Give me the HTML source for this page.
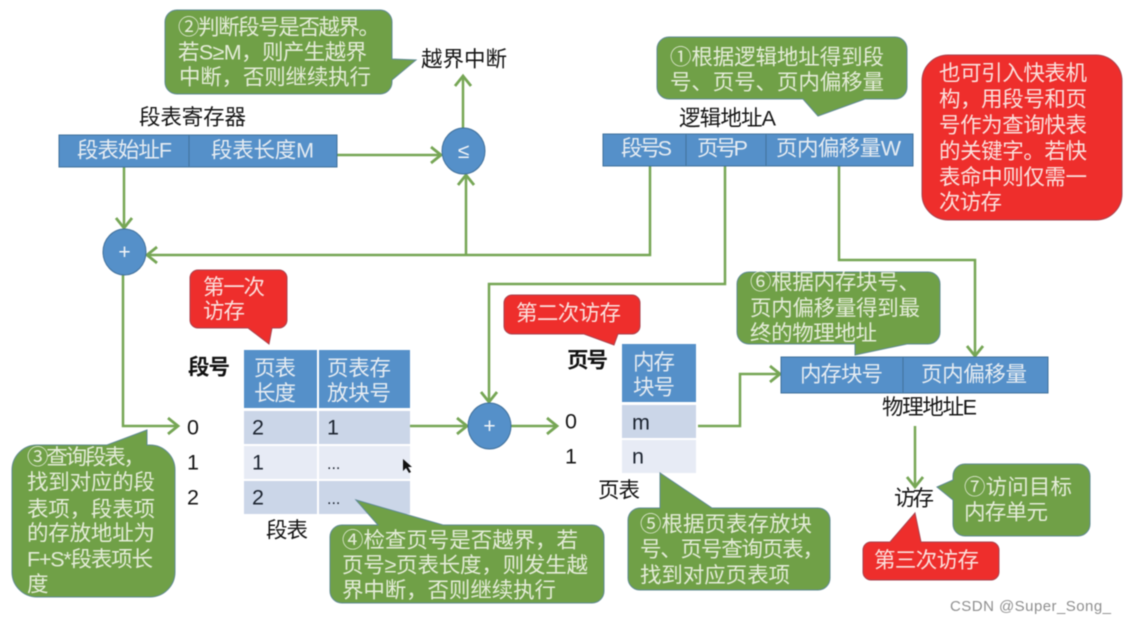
<!DOCTYPE html>
<html lang="zh">
<head>
<meta charset="utf-8">
<title>段页式地址变换</title>
<style>
html,body{margin:0;padding:0;background:#fff;width:1126px;height:625px;overflow:hidden}
svg{display:block;filter:blur(.5px)}
text{font-family:"Liberation Sans","Noto Sans CJK SC",sans-serif;font-size:21.5px;dominant-baseline:central;transform:translateY(.7px)}
.w{fill:#e6ecf2}
.g{fill:#e4ecd8}
.r{fill:#fbe0dd}
.k{fill:#151515}
.b{font-weight:700;fill:#111}
.n{fill:#1c2430}
.bub{fill:#70a047;stroke:#5f8a94;stroke-width:1}
.red{fill:#ee2e2c;stroke:#a9434f;stroke-width:1}
.box{fill:#5590c9;stroke:#41719c;stroke-width:1}
.l{fill:none;stroke:#76a655;stroke-width:2.5}
</style>
</head>
<body>
<svg width="1126" height="625" viewBox="0 0 1126 625" xmlns="http://www.w3.org/2000/svg">
<defs>
<marker id="a" markerUnits="userSpaceOnUse" markerWidth="16" markerHeight="20" refX="12" refY="10" orient="auto">
<path d="M2 2 L12 10 L2 18" fill="none" stroke="#76a655" stroke-width="2.8"/>
</marker>
</defs>
<rect width="1126" height="625" fill="#fff"/>

<!-- connectors -->
<path class="l" d="M463 128V76" marker-end="url(#a)"/>
<path class="l" d="M337 155H441" marker-end="url(#a)"/>
<path class="l" d="M466 255V175" marker-end="url(#a)"/>
<path class="l" d="M124 167V228" marker-end="url(#a)"/>
<path class="l" d="M650 166V255H147" marker-end="url(#a)"/>
<path class="l" d="M725 166V284H489V402" marker-end="url(#a)"/>
<path class="l" d="M839 166V260H975V356" marker-end="url(#a)"/>
<path class="l" d="M123 275V426H178" marker-end="url(#a)"/>
<path class="l" d="M407 426H467" marker-end="url(#a)"/>
<path class="l" d="M511 426H557" marker-end="url(#a)"/>
<path class="l" d="M698 426H740V374H780" marker-end="url(#a)"/>
<path class="l" d="M915 426V487" marker-end="url(#a)"/>

<!-- segment register -->
<rect class="box" x="59" y="135" width="278" height="32"/>
<path d="M189 135V167" stroke="#41719c" stroke-width="1"/>
<text class="k" x="139" y="117" textLength="107">段表寄存器</text>
<text class="w" x="77" y="150" textLength="95">段表始址F</text>
<text class="w" x="211" y="150" textLength="103">段表长度M</text>

<!-- bubble 2 -->
<path class="bub" d="M177 10H380a12 12 0 0 1 12 12V59L416 60L392 80V82a12 12 0 0 1-12 12H177a12 12 0 0 1-12-12V22a12 12 0 0 1 12-12Z"/>
<text class="g" x="178" y="27" textLength="202">②判断段号是否越界。</text>
<text class="g" x="178" y="52" textLength="189">若S≥M，则产生越界</text>
<text class="g" x="179" y="77" textLength="192">中断，否则继续执行</text>
<text class="k" x="421" y="59" textLength="86">越界中断</text>

<!-- compare -->
<ellipse cx="463.5" cy="151" rx="21.5" ry="23" fill="#5590c9" stroke="#41719c"/>
<text class="w" x="463.5" y="151" text-anchor="middle" style="font-size:21px;fill:#f2f5f8">≤</text>
<ellipse cx="124.5" cy="252" rx="21.5" ry="23" fill="#5590c9" stroke="#41719c"/>
<text class="w" x="124.5" y="252" text-anchor="middle" style="font-size:21px;fill:#f2f5f8">+</text>
<ellipse cx="489.5" cy="426" rx="21.5" ry="23" fill="#5590c9" stroke="#41719c"/>
<text class="w" x="489.5" y="426" text-anchor="middle" style="font-size:21px;fill:#f2f5f8">+</text>

<!-- bubble 1 and logical address -->
<path class="bub" d="M669 37H895a12 12 0 0 1 12 12V87a12 12 0 0 1-12 12H865L818 116L803 99H669a12 12 0 0 1-12-12V49a12 12 0 0 1 12-12Z"/>
<text class="g" x="670" y="57" textLength="214">①根据逻辑地址得到段</text>
<text class="g" x="670" y="82" textLength="214">号、页号、页内偏移量</text>
<text class="k" x="679" y="118" textLength="97">逻辑地址A</text>
<rect class="box" x="603" y="134" width="310" height="32"/>
<path d="M686 134V166M766 134V166" stroke="#41719c" stroke-width="1"/>
<text class="w" x="621" y="148" textLength="51">段号S</text>
<text class="w" x="697" y="148" textLength="51">页号P</text>
<text class="w" x="776" y="148" textLength="125">页内偏移量W</text>

<!-- red note -->
<rect class="red" x="922" y="55" width="200" height="165" rx="26"/>
<text class="r" x="939" y="73" textLength="148">也可引入快表机</text>
<text class="r" x="939" y="99" textLength="148">构，用段号和页</text>
<text class="r" x="939" y="125" textLength="148">号作为查询快表</text>
<text class="r" x="939" y="151" textLength="148">的关键字。若快</text>
<text class="r" x="939" y="177" textLength="148">表命中则仅需一</text>
<text class="r" x="939" y="202" textLength="63">次访存</text>

<!-- first access -->
<path class="red" d="M198 270H279a8 8 0 0 1 8 8V320a8 8 0 0 1-8 8H272L269 344L248 328H198a8 8 0 0 1-8-8V278a8 8 0 0 1 8-8Z"/>
<text class="r" x="203" y="287" textLength="62">第一次</text>
<text class="r" x="203" y="311" textLength="42">访存</text>

<!-- segment table -->
<text class="b" x="188" y="367" textLength="42">段号</text>
<rect x="244" y="350" width="73" height="58" fill="#5590c9"/>
<rect x="319" y="350" width="91" height="58" fill="#5590c9"/>
<rect x="244" y="411" width="73" height="33" fill="#cbd6e8"/>
<rect x="319" y="411" width="91" height="33" fill="#cbd6e8"/>
<rect x="244" y="446" width="73" height="33" fill="#e7ebf5"/>
<rect x="319" y="446" width="91" height="33" fill="#e7ebf5"/>
<rect x="244" y="481" width="73" height="33" fill="#cbd6e8"/>
<rect x="319" y="481" width="91" height="33" fill="#cbd6e8"/>
<text class="w" x="254" y="368" textLength="42">页表</text>
<text class="w" x="254" y="393" textLength="42">长度</text>
<text class="w" x="327" y="368" textLength="64">页表存</text>
<text class="w" x="327" y="393" textLength="64">放块号</text>
<text class="k" x="187" y="427">0</text>
<text class="k" x="187" y="462">1</text>
<text class="k" x="187" y="497">2</text>
<text class="n" x="252" y="427">2</text>
<text class="n" x="327" y="427">1</text>
<text class="n" x="252" y="462">1</text>
<text class="n" x="327" y="464" style="font-size:16px">...</text>
<text class="n" x="252" y="497">2</text>
<text class="n" x="327" y="499" style="font-size:16px">...</text>
<text class="k" x="266" y="530" textLength="42">段表</text>
<path d="M403 459L403 471L406 468L409 473L411 472L408 467L412 467Z" fill="#111"/>

<!-- bubble 3 -->
<path class="bub" d="M37 445H107L147 430V445H150a25 25 0 0 1 25 25V572a25 25 0 0 1-25 25H37a25 25 0 0 1-25-25V470a25 25 0 0 1 25-25Z"/>
<text class="g" x="27" y="457" textLength="118">③查询段表，</text>
<text class="g" x="27" y="482" textLength="128">找到对应的段</text>
<text class="g" x="27" y="509" textLength="128">表项，段表项</text>
<text class="g" x="27" y="533" textLength="128">的存放地址为</text>
<text class="g" x="27" y="559" textLength="126">F+S*段表项长</text>
<text class="g" x="27" y="584" textLength="21">度</text>

<!-- bubble 4 -->
<path class="bub" d="M342 525H378L356 500L443 525H592a12 12 0 0 1 12 12V591a12 12 0 0 1-12 12H342a12 12 0 0 1-12-12V537a12 12 0 0 1 12-12Z"/>
<text class="g" x="342" y="540" textLength="236">④检查页号是否越界，若</text>
<text class="g" x="342" y="565" textLength="246">页号≥页表长度，则发生越</text>
<text class="g" x="342" y="590" textLength="214">界中断，否则继续执行</text>

<!-- second access -->
<path class="red" d="M512 295H632a8 8 0 0 1 8 8V326a8 8 0 0 1-8 8H618L614 345L584 334H512a8 8 0 0 1-8-8V303a8 8 0 0 1 8-8Z"/>
<text class="r" x="516" y="313" textLength="105">第二次访存</text>

<!-- page table -->
<text class="b" x="567" y="360" textLength="41">页号</text>
<rect x="622" y="344" width="74" height="58" fill="#5590c9"/>
<rect x="622" y="405" width="74" height="33" fill="#cbd6e8"/>
<rect x="622" y="440" width="74" height="33" fill="#e7ebf5"/>
<text class="w" x="633" y="362" textLength="42">内存</text>
<text class="w" x="633" y="387" textLength="42">块号</text>
<text class="n" x="632" y="422">m</text>
<text class="n" x="632" y="456">n</text>
<text class="k" x="565" y="421">0</text>
<text class="k" x="565" y="456">1</text>
<text class="k" x="598" y="490" textLength="42">页表</text>

<!-- bubble 5 -->
<path class="bub" d="M640 508H660V473L712 508H818a12 12 0 0 1 12 12V578a12 12 0 0 1-12 12H640a12 12 0 0 1-12-12V520a12 12 0 0 1 12-12Z"/>
<text class="g" x="640" y="524" textLength="172">⑤根据页表存放块</text>
<text class="g" x="640" y="549" textLength="184">号、页号查询页表，</text>
<text class="g" x="640" y="575" textLength="150">找到对应页表项</text>

<!-- bubble 6 and physical address -->
<path class="bub" d="M749 272H928a12 12 0 0 1 12 12V332a12 12 0 0 1-12 12H907L855 355V344H749a12 12 0 0 1-12-12V284a12 12 0 0 1 12-12Z"/>
<text class="g" x="750" y="282" textLength="170">⑥根据内存块号、</text>
<text class="g" x="750" y="308" textLength="170">页内偏移量得到最</text>
<text class="g" x="750" y="333" textLength="127">终的物理地址</text>
<rect class="box" x="781" y="357" width="267" height="36"/>
<path d="M903 357V393" stroke="#41719c" stroke-width="1"/>
<text class="w" x="800" y="374" textLength="83">内存块号</text>
<text class="w" x="921" y="374" textLength="106">页内偏移量</text>
<text class="k" x="882" y="407" textLength="95">物理地址E</text>

<!-- memory access -->
<text class="k" x="894" y="498" textLength="40">访存</text>
<path class="bub" d="M965 464H1078a12 12 0 0 1 12 12V524a12 12 0 0 1-12 12H965a12 12 0 0 1-12-12V500L937 487L953 480V476a12 12 0 0 1 12-12Z"/>
<text class="g" x="964" y="487" textLength="108">⑦访问目标</text>
<text class="g" x="964" y="512" textLength="84">内存单元</text>
<path class="red" d="M871 542H890L915 513L921 542H991a8 8 0 0 1 8 8V572a8 8 0 0 1-8 8H871a8 8 0 0 1-8-8V550a8 8 0 0 1 8-8Z"/>
<text class="r" x="874" y="560" textLength="105">第三次访存</text>

<text x="950" y="606" textLength="161" style="font-size:15px;fill:#8f8f8f">CSDN @Super_Song_</text>
</svg>
</body>
</html>
